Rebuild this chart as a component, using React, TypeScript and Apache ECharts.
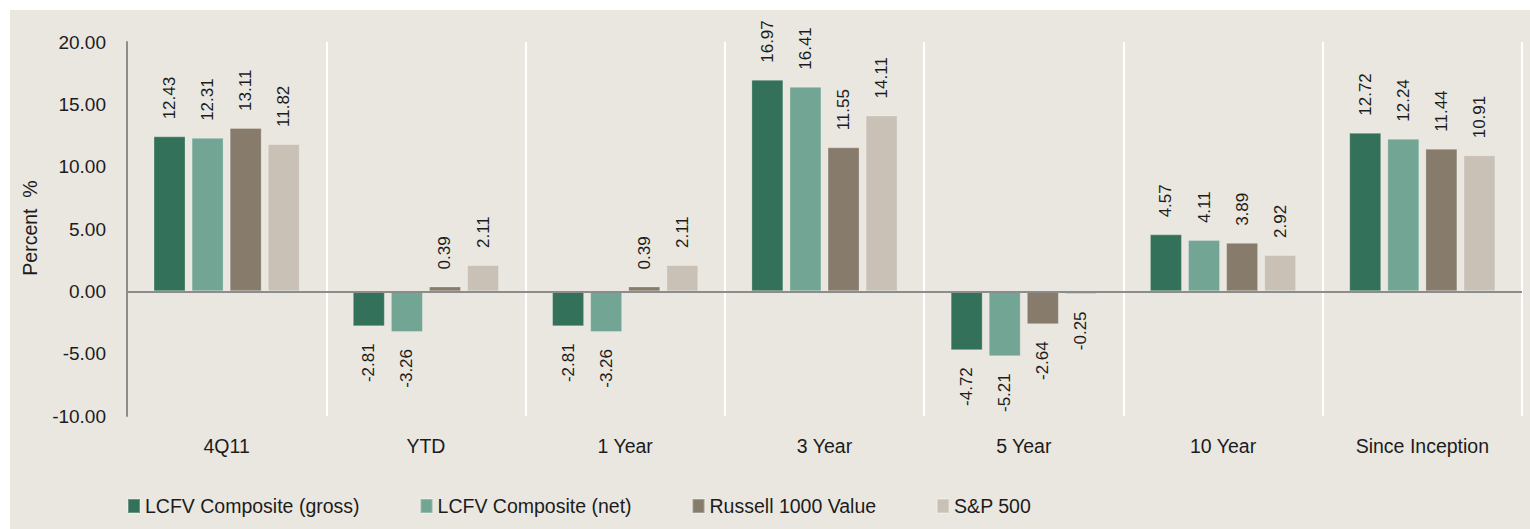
import React, { useEffect, useRef } from "react";
import * as echarts from "echarts";

const categories = ["4Q11", "YTD", "1 Year", "3 Year", "5 Year", "10 Year", "Since Inception"];
const seriesNames = ["LCFV Composite (gross)", "LCFV Composite (net)", "Russell 1000 Value", "S&P 500"];
const grossValues = [12.43, -2.81, -2.81, 16.97, -4.72, 4.57, 12.72];
const netValues = [12.31, -3.26, -3.26, 16.41, -5.21, 4.11, 12.24];
const russellValues = [13.11, 0.39, 0.39, 11.55, -2.64, 3.89, 11.44];
const spValues = [11.82, 2.11, 2.11, 14.11, -0.25, 2.92, 10.91];
const colors = ["#34715A", "#72A593", "#877C6B", "#C9C1B6"];
const yTicks = { min: -10, max: 20, interval: 5 };

const FONT = "'Liberation Sans', Arial, sans-serif";
const TEXT = "#1c1c1c";

export default function App() {
  const ref = useRef<HTMLDivElement>(null);
  useEffect(() => {
    if (!ref.current) return;
    const chart = echarts.init(ref.current, undefined, { renderer: "svg" });
    const allValues = [grossValues, netValues, russellValues, spValues];
    const series = allValues.map((vals, i) => ({
      name: seriesNames[i],
      type: "bar",
      barWidth: 32,
      barGap: "19%",
      itemStyle: { color: colors[i], borderColor: "rgba(255,255,255,0.25)", borderWidth: 1 },
      data: vals.map((v) => ({
        value: v,
        label: v >= 0
          ? { position: "top", align: "left", verticalAlign: "middle" }
          : { position: "bottom", align: "right", verticalAlign: "middle" },
      })),
      label: {
        show: true,
        rotate: 90,
        distance: 17,
        fontFamily: FONT,
        fontSize: 17,
        color: TEXT,
        formatter: (p: any) => Number(p.value).toFixed(2),
      },
      markLine: i === 0 ? {
        silent: true,
        symbol: ["none", "none"],
        label: { show: false },
        lineStyle: { color: "#8C8C8C", width: 2, type: "solid" },
        data: [{ yAxis: 0 }],
        z: 5,
      } : undefined,
    }));
    chart.setOption({
      animation: false,
      backgroundColor: "#ffffff",
      textStyle: { fontFamily: FONT },
      graphic: [
        { type: "rect", shape: { x: 10, y: 10, width: 1520, height: 519 }, style: { fill: "#EAE7E1" }, z: -10, silent: true },
        {
          type: "text",
          x: 30,
          y: 228,
          rotation: Math.PI / 2,
          style: { text: "Percent  %", font: `19.5px ${FONT}`, fill: TEXT, align: "center", verticalAlign: "middle" },
          silent: true,
        },
      ],
      grid: { left: 127, right: 8, top: 42, bottom: 113, containLabel: false },
      legend: {
        data: seriesNames,
        left: 122,
        top: 491,
        itemWidth: 12,
        itemHeight: 14,
        itemGap: 60,
        icon: "rect",
        textStyle: { fontFamily: FONT, fontSize: 19.5, color: TEXT },
      },
      xAxis: {
        type: "category",
        data: categories,
        axisLine: { show: false, onZero: false },
        axisTick: { show: false },
        axisLabel: { interval: 0, fontFamily: FONT, fontSize: 19.5, color: TEXT, margin: 20 },
        splitLine: { show: true, interval: 0, lineStyle: { color: "#ffffff", width: 2 } },
      },
      yAxis: {
        type: "value",
        min: yTicks.min,
        max: yTicks.max,
        interval: yTicks.interval,
        axisLine: { show: true, lineStyle: { color: "#8C8C8C", width: 2 } },
        axisTick: { show: false },
        splitLine: { show: false },
        axisLabel: {
          fontFamily: FONT,
          fontSize: 19,
          color: TEXT,
          margin: 21,
          formatter: (v: number) => v.toFixed(2),
        },
      },
      series,
    });
    return () => chart.dispose();
  }, []);
  return (
    <div
      ref={ref}
      style={{ position: "fixed", left: 0, top: 0, width: 1530, height: 529 }}
    />
  );
}
